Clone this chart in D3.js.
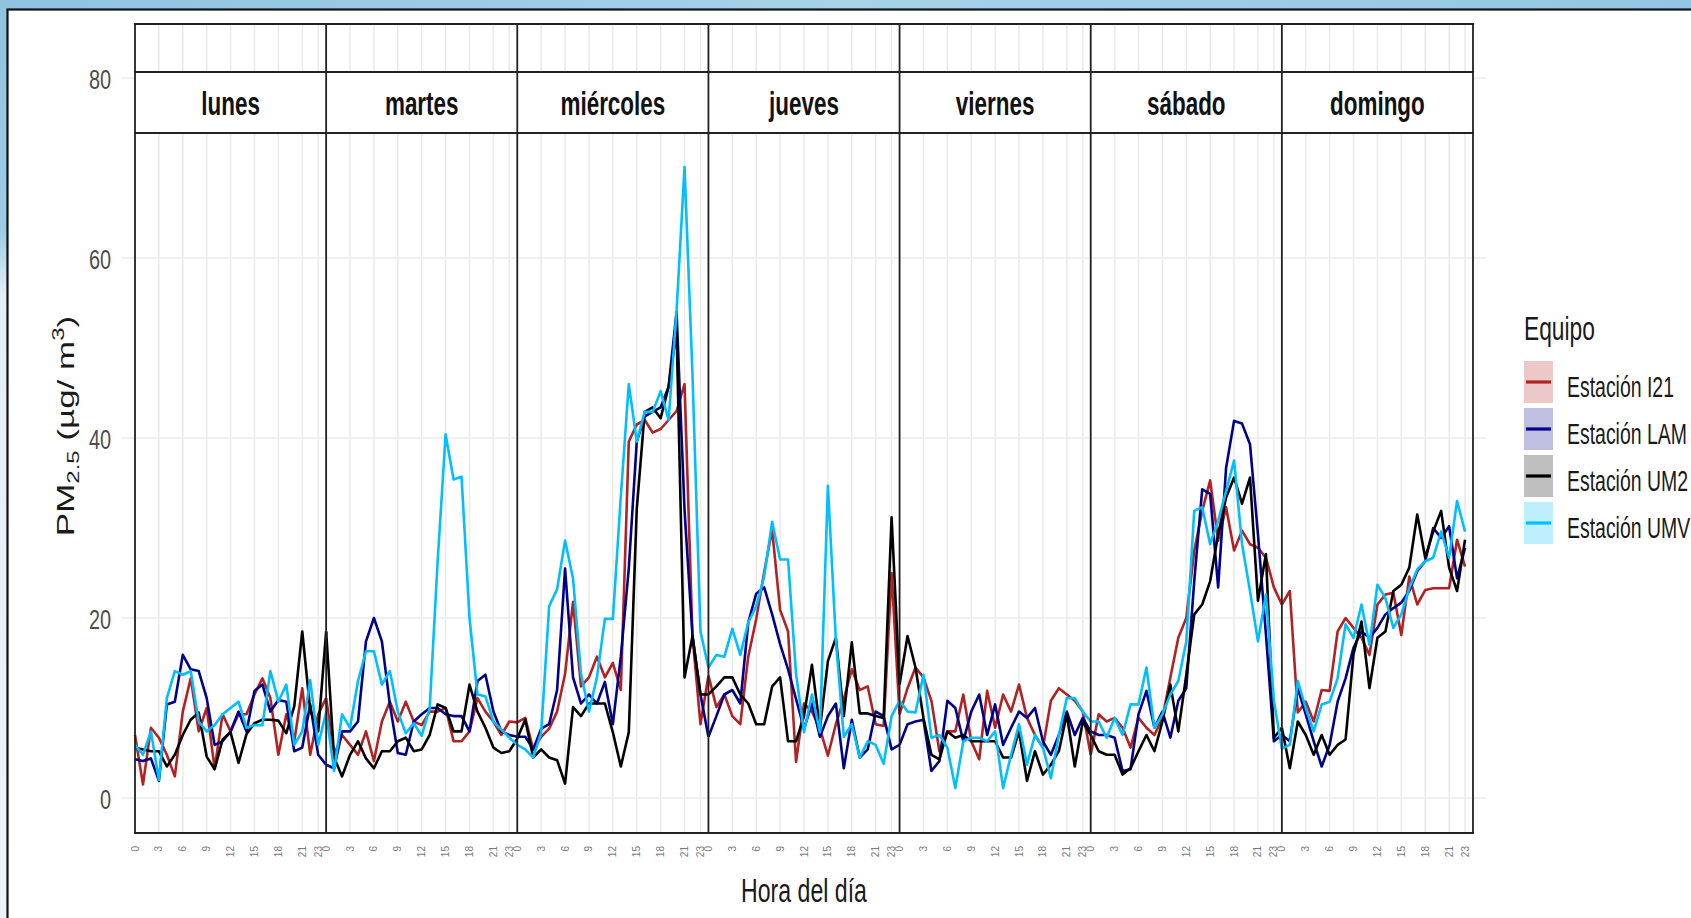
<!DOCTYPE html>
<html>
<head>
<meta charset="utf-8">
<script src="https://cdn.jsdelivr.net/npm/d3@7"></script>
<style>
  body { margin: 0; overflow: hidden; background: #fff; }
  svg text { font-family: "Liberation Sans", Arial, sans-serif; }
</style>
</head>
<body>
<div id="chart"></div>
<script>
// datos: promedio horario de PM2.5 por día de la semana
const days = ["lunes", "martes", "miércoles", "jueves", "viernes", "sábado", "domingo"];
const stations = ["Estación I21", "Estación LAM", "Estación UM2", "Estación UMV"];
const colors = ["#b22222", "#00008b", "#000000", "#00bfff"];
const keyFills = ["#ecc8c8", "#bfbfe2", "#bfbfbf", "#bfefff"];
const hourTicks = [0, 3, 6, 9, 12, 15, 18, 21, 23];
const yTicks = [0, 20, 40, 60, 80];

const i21 = [
  [7.0, 1.5, 7.8, 6.7, 4.8, 2.4, 9.6, 13.3, 7.4, 10.0, 3.3, 9.3, 7.4, 9.3, 9.3, 11.5, 13.3, 11.1, 4.8, 9.3, 6.3, 12.2, 4.8, 9.3],
  [11.1, 4.8, 7.0, 5.9, 4.8, 7.4, 4.1, 8.5, 10.7, 8.5, 10.7, 8.5, 8.1, 9.6, 9.6, 10.0, 6.3, 6.3, 7.4, 11.1, 9.6, 8.5, 7.0, 8.5],
  [8.4, 8.9, 5.4, 6.8, 7.7, 9.6, 13.8, 21.8, 12.4, 13.4, 15.7, 13.4, 15.0, 12.0, 39.6, 41.5, 42.0, 40.6, 41.0, 42.0, 43.0, 46.0, 18.0, 8.2],
  [13.6, 10.1, 11.5, 9.1, 8.2, 15.7, 19.9, 25.1, 29.8, 20.9, 18.5, 4.0, 10.5, 9.6, 7.7, 4.7, 8.2, 11.0, 14.3, 12.0, 12.4, 8.2, 8.0, 25.0],
  [9.3, 12.2, 14.5, 13.4, 10.8, 5.2, 7.4, 7.4, 11.5, 6.3, 4.3, 11.9, 7.8, 11.5, 9.6, 12.6, 8.9, 7.0, 5.6, 10.8, 12.2, 11.5, 10.8, 9.6],
  [4.8, 9.3, 8.5, 8.9, 7.8, 5.6, 8.9, 7.8, 7.0, 8.9, 13.4, 17.8, 20.0, 27.5, 31.9, 35.3, 28.6, 32.3, 27.5, 29.7, 28.2, 27.8, 26.7, 23.4],
  [21.5, 23.0, 9.5, 10.7, 8.5, 12.0, 11.9, 18.5, 20.0, 18.9, 17.8, 15.9, 21.5, 22.6, 22.8, 18.1, 24.6, 21.5, 23.1, 23.3, 23.3, 23.3, 28.7, 25.7]
];
const lam = [
  [4.3, 4.1, 4.4, 1.9, 10.4, 10.7, 15.9, 14.3, 14.1, 11.1, 5.9, 6.3, 7.4, 9.6, 7.4, 11.9, 12.6, 9.6, 10.9, 10.7, 5.2, 5.6, 10.4, 4.8],
  [3.7, 3.3, 7.4, 7.4, 8.5, 17.4, 20.0, 17.4, 10.4, 5.0, 4.8, 8.5, 9.3, 10.0, 10.0, 9.3, 9.1, 9.1, 7.4, 13.0, 13.7, 9.6, 7.4, 7.0],
  [6.8, 6.8, 5.4, 7.7, 8.2, 12.0, 25.5, 13.4, 10.5, 11.5, 10.5, 12.9, 8.2, 15.7, 25.5, 39.6, 42.4, 42.9, 43.4, 45.7, 54.0, 32.0, 18.0, 11.5],
  [6.8, 9.1, 11.5, 12.0, 10.5, 19.5, 22.7, 23.4, 20.4, 17.1, 14.3, 11.0, 7.7, 10.5, 6.8, 9.1, 10.5, 3.3, 8.7, 4.5, 5.4, 9.6, 9.1, 5.4],
  [5.9, 8.2, 8.5, 8.7, 3.0, 4.1, 10.8, 10.0, 6.3, 9.6, 11.5, 7.0, 10.4, 5.9, 7.8, 9.6, 8.9, 10.0, 6.3, 4.8, 7.0, 9.6, 7.0, 8.9],
  [7.4, 7.0, 7.0, 6.7, 3.0, 3.2, 9.3, 11.9, 7.8, 9.6, 6.7, 10.8, 12.2, 24.1, 34.3, 33.8, 23.4, 36.7, 41.9, 41.6, 39.3, 29.3, 18.2, 6.3],
  [7.0, 6.3, 12.2, 9.3, 6.3, 3.5, 5.9, 10.7, 13.3, 16.7, 18.5, 17.8, 18.9, 20.4, 21.1, 21.7, 23.0, 25.2, 26.3, 30.0, 28.9, 30.2, 24.4, 27.8]
];
const um2 = [
  [5.6, 5.4, 5.2, 5.2, 3.5, 4.8, 7.0, 8.7, 9.5, 4.6, 3.2, 6.5, 7.3, 3.9, 7.1, 8.3, 8.7, 8.7, 8.6, 7.2, 10.2, 18.5, 9.8, 7.4],
  [18.5, 4.5, 2.4, 4.8, 6.3, 4.4, 3.3, 5.2, 5.2, 6.3, 6.7, 5.2, 5.4, 7.0, 10.4, 10.0, 7.4, 7.4, 12.6, 9.6, 7.8, 5.6, 5.0, 5.2],
  [6.6, 8.7, 4.5, 5.4, 4.5, 4.2, 1.6, 10.1, 9.1, 10.5, 10.5, 10.5, 7.3, 3.5, 7.3, 32.1, 42.9, 43.4, 42.2, 45.7, 52.0, 13.4, 18.0, 11.5],
  [11.5, 12.4, 13.4, 13.4, 11.5, 10.5, 8.2, 8.2, 12.4, 13.4, 6.3, 6.3, 9.1, 14.8, 7.7, 15.2, 17.8, 9.1, 17.3, 9.4, 9.4, 9.1, 8.9, 31.2],
  [12.6, 18.0, 14.5, 8.9, 4.8, 4.3, 7.4, 6.7, 7.0, 6.3, 6.3, 6.3, 6.3, 4.5, 4.5, 7.4, 1.9, 5.2, 2.6, 3.7, 5.2, 9.3, 3.5, 8.5],
  [7.0, 5.2, 4.8, 4.8, 2.6, 3.3, 5.2, 7.0, 5.2, 8.5, 12.6, 7.4, 13.7, 20.4, 21.5, 24.1, 29.3, 33.4, 35.6, 32.7, 35.6, 21.9, 27.1, 6.7],
  [7.8, 3.3, 8.5, 7.0, 4.8, 7.0, 4.8, 5.9, 6.5, 16.0, 19.6, 12.2, 17.8, 18.5, 23.0, 23.7, 25.6, 31.5, 26.7, 29.6, 31.9, 25.6, 23.0, 28.7]
];
const umv = [
  [5.9, 4.8, 7.4, 2.0, 11.1, 14.1, 13.7, 14.1, 8.5, 7.4, 8.1, 9.3, 10.0, 10.7, 7.8, 8.1, 8.1, 14.1, 10.7, 12.6, 5.9, 7.4, 13.1, 5.9],
  [9.5, 3.0, 9.3, 7.8, 13.0, 16.3, 16.3, 12.6, 14.1, 9.6, 7.2, 8.3, 6.9, 10.0, 26.3, 40.4, 35.4, 35.7, 20.0, 11.5, 11.3, 8.5, 7.6, 6.7],
  [5.9, 5.4, 4.5, 7.3, 21.3, 23.2, 28.6, 24.4, 13.8, 9.6, 13.4, 19.9, 19.9, 33.5, 46.0, 39.6, 42.9, 42.9, 45.2, 42.0, 54.1, 70.1, 47.0, 18.5],
  [14.5, 15.9, 15.7, 18.8, 15.9, 19.5, 21.3, 24.6, 30.7, 26.5, 26.5, 13.8, 7.3, 11.5, 7.3, 34.7, 17.6, 6.8, 8.2, 4.5, 6.3, 5.9, 3.8, 9.1],
  [10.8, 9.6, 9.5, 13.7, 6.7, 7.0, 5.6, 1.1, 6.3, 6.7, 6.7, 6.3, 7.4, 1.1, 4.8, 8.2, 3.7, 7.0, 5.6, 2.2, 7.0, 11.1, 11.1, 9.6],
  [8.5, 8.5, 6.7, 8.9, 7.0, 10.4, 10.4, 14.5, 7.8, 9.3, 11.5, 13.0, 17.4, 31.9, 32.3, 28.2, 30.8, 34.1, 37.5, 28.2, 23.0, 17.4, 22.6, 10.8],
  [5.5, 5.9, 13.0, 10.0, 7.4, 10.4, 10.7, 13.3, 19.3, 17.8, 21.5, 17.0, 23.7, 22.2, 18.9, 20.4, 23.3, 25.4, 26.3, 26.7, 29.6, 26.7, 33.0, 29.6]
];
const series = [i21, lam, um2, umv];

const W = 1691, H = 918;
const panel = { left: 135, right: 1473, top: 24, bottom: 833 };
const strip = { top: 72, bottom: 133 };
const SX = 0.7;   // el texto de la imagen original está comprimido horizontalmente

const svg = d3.select("#chart").append("svg")
  .attr("width", W).attr("height", H);

// fondo azul de la diapositiva (arriba y borde izquierdo)
const defs = svg.append("defs");
const sky = defs.append("linearGradient").attr("id", "sky")
  .attr("x1", "0%").attr("y1", "0%").attr("x2", "100%").attr("y2", "0%");
sky.append("stop").attr("offset", "0%").attr("stop-color", "#8fc3e0");
sky.append("stop").attr("offset", "50%").attr("stop-color", "#a7d2ea");
sky.append("stop").attr("offset", "100%").attr("stop-color", "#93c6e2");
const side = defs.append("linearGradient").attr("id", "side")
  .attr("x1", "0%").attr("y1", "0%").attr("x2", "0%").attr("y2", "100%");
side.append("stop").attr("offset", "0%").attr("stop-color", "#8fc3e0");
side.append("stop").attr("offset", "25%").attr("stop-color", "#9ccbe6");
side.append("stop").attr("offset", "32%").attr("stop-color", "#e4eef6");
side.append("stop").attr("offset", "100%").attr("stop-color", "#eef3f8");
svg.append("rect").attr("width", W).attr("height", H).attr("fill", "url(#side)");
svg.append("rect").attr("width", W).attr("height", 10).attr("fill", "url(#sky)");
svg.append("rect").attr("x", 7.5).attr("y", 9.5).attr("width", W).attr("height", H)
  .attr("fill", "#fff").attr("stroke", "#111").attr("stroke-width", 2.2);

// escalas
const xDay = d3.scaleBand().domain(days).range([panel.left, panel.right]).padding(0);
const xHour = d3.scaleLinear().domain([0, 24]).range([0, xDay.bandwidth()]);
const y = d3.scaleLinear().domain([0, 80]).range([798, 78]);

function ctext(g, x, yy, str, sx) {
  return g.append("text").attr("transform", `translate(${x},${yy}) scale(${sx},1)`).text(str);
}

// cuadrícula horizontal
svg.append("g").selectAll("line").data(yTicks).join("line")
  .attr("x1", 121).attr("x2", 1486)
  .attr("y1", d => y(d)).attr("y2", d => y(d))
  .attr("stroke", "#ebebeb").attr("stroke-width", 1.6);

// cuadrícula vertical por panel
days.forEach(day => {
  svg.append("g").selectAll("line").data(hourTicks).join("line")
    .attr("x1", d => xDay(day) + xHour(d)).attr("x2", d => xDay(day) + xHour(d))
    .attr("y1", panel.top).attr("y2", panel.bottom)
    .attr("stroke", "#ebebeb").attr("stroke-width", 1.6);
});

// líneas de cada estación
const line = d3.line().x(d => d.x).y(d => y(d.v));
series.forEach((s, si) => {
  days.forEach((day, di) => {
    const vals = s[di].slice();
    if (di < days.length - 1) vals.push(s[di + 1][0]);   // continúa hasta la medianoche
    const pts = vals.map((v, h) => ({ x: xDay(day) + xHour(h), v }));
    svg.append("path").datum(pts)
      .attr("d", line)
      .attr("fill", "none")
      .attr("stroke", colors[si])
      .attr("stroke-width", 2.6)
      .attr("stroke-linejoin", "round");
  });
});

// franjas con los días
svg.append("rect").attr("x", panel.left).attr("y", strip.top)
  .attr("width", panel.right - panel.left).attr("height", strip.bottom - strip.top)
  .attr("fill", "#fff");
[panel.top, strip.top, strip.bottom, panel.bottom].forEach(yy => {
  svg.append("line").attr("x1", panel.left - 1).attr("x2", panel.right + 1)
    .attr("y1", yy).attr("y2", yy).attr("stroke", "#222").attr("stroke-width", 2);
});
days.forEach(day => {
  svg.append("line").attr("x1", xDay(day)).attr("x2", xDay(day))
    .attr("y1", panel.top).attr("y2", panel.bottom)
    .attr("stroke", "#222").attr("stroke-width", 1.8);
  ctext(svg, xDay(day) + xDay.bandwidth() / 2, 115, day, 0.66)
    .attr("text-anchor", "middle").attr("font-size", 34).attr("font-weight", "bold").attr("fill", "#111");
});
svg.append("line").attr("x1", panel.right).attr("x2", panel.right)
  .attr("y1", panel.top).attr("y2", panel.bottom)
  .attr("stroke", "#222").attr("stroke-width", 1.8);

// eje y
yTicks.forEach(t => {
  ctext(svg, 111, y(t) + 11, t, 0.71)
    .attr("text-anchor", "end").attr("font-size", 28).attr("fill", "#4d4d4d");
});
const yt = svg.append("text")
  .attr("transform", `translate(74,426) scale(${SX},1) rotate(-90)`)
  .attr("text-anchor", "middle").attr("font-size", 35).attr("fill", "#1a1a1a");
yt.append("tspan").text("PM");
yt.append("tspan").attr("font-size", 24).attr("dy", 7).text("2.5");
yt.append("tspan").attr("dy", -7).text(" (µg/ m");
yt.append("tspan").attr("font-size", 24).attr("dy", -15).text("3");
yt.append("tspan").attr("dy", 15).text(")");

// eje x
days.forEach(day => {
  hourTicks.forEach(h => {
    svg.append("text")
      .attr("transform", `translate(${xDay(day) + xHour(h) + 3.5},846) rotate(-90)`)
      .attr("text-anchor", "end").attr("font-size", 10).attr("fill", "#7a7a7a").text(h);
  });
});
ctext(svg, (panel.left + panel.right) / 2, 902, "Hora del día", SX)
  .attr("text-anchor", "middle").attr("font-size", 33).attr("fill", "#1a1a1a");

// leyenda
const leg = svg.append("g");
ctext(leg, 1524, 340, "Equipo", 0.69).attr("font-size", 33).attr("fill", "#1a1a1a");
stations.forEach((st, i) => {
  const top = 361 + i * 47;
  leg.append("rect").attr("x", 1524).attr("y", top).attr("width", 29).attr("height", 42)
    .attr("fill", keyFills[i]);
  leg.append("line").attr("x1", 1526).attr("x2", 1551)
    .attr("y1", top + 21).attr("y2", top + 21)
    .attr("stroke", colors[i]).attr("stroke-width", 3.2);
  ctext(leg, 1567, top + 35.5, st, 0.68).attr("font-size", 28.6).attr("fill", "#1a1a1a");
});
</script>
</body>
</html>
